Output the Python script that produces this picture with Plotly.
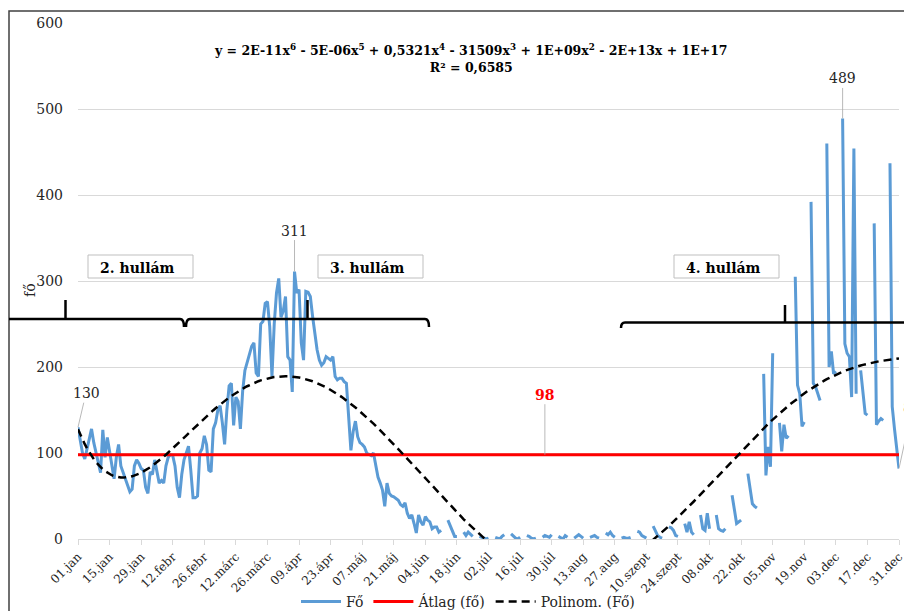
import numpy as np
import plotly.graph_objects as go

# ---------------- data ----------------
tick_labels = ["01.jan", "15.jan", "29.jan", "12.febr", "26.febr", "12.márc", "26.márc",
               "09.ápr", "23.ápr", "07.máj", "21.máj", "04.jún", "18.jún", "02.júl",
               "16.júl", "30.júl", "13.aug", "27.aug", "10.szept", "24.szept", "08.okt",
               "22.okt", "05.nov", "19.nov", "03.dec", "17.dec", "31.dec"]
tick_step = 14

# daily values (fő), 01.jan .. 31.dec ; None = no data
fo_jan_mar = [130, 115, 100, 93, 105, 120, 128, 112, 100, 85,
              77, 127, 95, 118, 100, 88, 70, 95, 110, 85,
              78, 70, 62, 55, 58, 85, 92, 88, 82, 80,
              60, 53, 78, 75, 92, 80, 65, 68, 65, 85,
              95, 98, 97, 85, 60, 48, 75, 92, 100, 108,
              80, 48, 48, 50, 100, 105, 120, 110, 80, 78,
              128, 135, 150, 155, 135, 110, 150, 178]
fo_mar_may = [181, 132, 165, 160, 128, 172, 196, 205, 212, 224,
              228, 193, 189, 250, 253, 274, 276, 247, 189, 250,
              286, 303, 258, 265, 282, 212, 208, 171, 311, 286,
              290, 228, 208, 288, 287, 282, 259, 240, 220, 208,
              202, 205, 212, 210, 208, 212, 189, 185, 187, 187,
              183, 181, 140, 103, 125, 137, 119, 112, 110, 107,
              100, 98, 97, 100, 84, 72]
fo_may_jun = [65, 57, 38, 65, 53, 50, 49, 47, 45, 40,
              38, 42, 30, 24, 28, 18, 7, 28, 20, 16,
              26, 22, 20, 12, 14, 14, 8, 10]
fo_jun_oct = [None, None, 22, 15, 10, 3, 3, None, None, 8,
              4, 8, 5, 3, None, None, 3, 2, 1, 0,
              1, None, None, 2, 1, 0, 3, 5, None, None,
              6, 3, 1, 0, 2, None, None, 4, 3, 1,
              0, 1, None, None, 2, 4, 3, 2, 5, None,
              None, 3, 1, 0, 4, 2, None, None, 1, 3,
              5, 3, 1, None, None, 2, 3, 4, 2, 1,
              None, None, 7, 5, 8, 4, 2, None, None, 1,
              2, 1, 1, 2, None, None, 9, 8, 4, 2,
              1, None, None, 15, 9, 4, 2, 1, None, None,
              14, 13, 10, 4, 3, None, None, 18, 8, 20,
              8, 5, None, None, 28, 12, 10, 30, 12, None,
              None, 28, 12, 10, 9, 12, None, None, 51, 35,
              18, 20, 22, None, None, 76, 55, 41, 38, 36]
fo_nov_dec = [None, None, 192, 74, 107, 84, 216, None, None, 135,
              102, 133, 117, 120, None, None, 305, 179, 169, 131,
              136, None, None, 392, 181, 177, 170, 161, None, None,
              460, 200, 218, 192, 195, None, None, 489, 227, 216,
              212, 165, 454, 169, None, 196, 170, 146, 144, None,
              None, 367, 133, 137, 140, 138, None, None, 437, 154,
              128, 105, 82]

atlag = 98
wave_labels = ["2. hullám", "3. hullám", "4. hullám"]
equation = ("y = 2E-11x<sup>6</sup> - 5E-06x<sup>5</sup> + 0,5321x<sup>4</sup> - 31509x<sup>3</sup>"
            " + 1E+09x<sup>2</sup> - 2E+13x + 1E+17")
r2_text = "R² = 0,6585"

fo = fo_jan_mar + fo_mar_may + fo_may_jun + fo_jun_oct + fo_nov_dec
assert len(fo) == 365, len(fo)
days = list(range(len(fo)))

# polynomial (6th order) trend, fitted to the data
valid = [(d, v) for d, v in zip(days, fo) if v is not None]
xs = np.array([d for d, _ in valid], dtype=float)
ys = np.array([v for _, v in valid], dtype=float)
poly = np.polynomial.Polynomial.fit(xs, ys, 6)
trend = poly(np.array(days, dtype=float))

# ---------------- layout helpers ----------------
OFF = 8                      # page body margin
W, H = 912 - OFF, 611 - OFF  # figure size
L, T = 78 - OFF, 23 - OFF
R = W - (899 - OFF)
B = H - (539 - OFF)
PW, PH = W - L - R, H - T - B


def px(x):   # page pixel x -> paper
    return (x - OFF - L) / PW


def py(y):   # page pixel y -> paper
    return (H - B - (y - OFF)) / PH


SERIF = "DejaVu Serif"
BLUE = "#5B9BD5"
TXT = "#262626"

fig = go.Figure()
fig.add_trace(go.Scatter(x=days, y=fo, mode="lines", name="Fő",
                         line=dict(color=BLUE, width=3), connectgaps=False))
fig.add_trace(go.Scatter(x=[days[0], days[-1]], y=[atlag, atlag], mode="lines",
                         name="Átlag (fő)", line=dict(color="#FF0000", width=3)))
fig.add_trace(go.Scatter(x=days, y=trend, mode="lines", name="Polinom. (Fő)",
                         line=dict(color="black", width=2.5, dash="8px,5px")))

shapes = []
# outer frame
shapes.append(dict(type="rect", xref="paper", yref="paper",
                   x0=px(9), x1=px(930), y0=py(11), y1=py(640),
                   line=dict(color="#404040", width=1.5), fillcolor="rgba(0,0,0,0)"))


def brace_path(x0, x1, xs_, yl, ye, ys_, left_end=True, right_end=True):
    p = "M %f,%f " % (px(x0), py(ye if left_end else yl))
    if left_end:
        p += "Q %f,%f %f,%f " % (px(x0), py(yl), px(x0 + 4), py(yl))
    if right_end:
        p += "L %f,%f Q %f,%f %f,%f " % (px(x1 - 4), py(yl), px(x1), py(yl), px(x1), py(ye))
    else:
        p += "L %f,%f " % (px(x1), py(yl))
    p += "M %f,%f L %f,%f" % (px(xs_), py(yl), px(xs_), py(ys_))
    return p


brace_line = dict(color="black", width=2.5)
shapes.append(dict(type="path", xref="paper", yref="paper", line=brace_line,
                   path=brace_path(9, 184, 65.5, 319, 327, 300, left_end=False)))
shapes.append(dict(type="path", xref="paper", yref="paper", line=brace_line,
                   path=brace_path(186, 429, 307.5, 319, 327, 300)))
shapes.append(dict(type="path", xref="paper", yref="paper", line=brace_line,
                   path=brace_path(621, 930, 785, 322.5, 328, 305, right_end=False)))

# wave label boxes
boxes = [(88, 193), (318, 423), (674, 779)]
annotations = []
for (bx0, bx1), lab in zip(boxes, wave_labels):
    shapes.append(dict(type="rect", xref="paper", yref="paper",
                       x0=px(bx0), x1=px(bx1), y0=py(278), y1=py(255),
                       line=dict(color="#bfbfbf", width=1), fillcolor="white", layer="below"))
    annotations.append(dict(xref="paper", yref="paper", x=px(bx0 + 10), y=py(268),
                            xanchor="left", yanchor="middle", showarrow=False, text="<b>%s</b>" % lab,
                            font=dict(family=SERIF, size=14, color="black")))

# equation
annotations.append(dict(xref="paper", yref="paper", x=px(471), y=py(58), xanchor="center",
                        yanchor="middle", showarrow=False, align="center",
                        text="<b>%s<br>%s</b>" % (equation, r2_text),
                        font=dict(family=SERIF, size=12.5, color="black")))

# data labels with leader lines
lead = dict(showarrow=True, arrowhead=0, arrowwidth=0.8, arrowcolor="#a6a6a6",
            font=dict(family=SERIF, size=14, color=TXT), standoff=0)
first_half_max = max((d for d in range(180) if fo[d] is not None), key=lambda d: fo[d])
second_half_max = max((d for d in days if fo[d] is not None and d > 180), key=lambda d: fo[d])
annotations.append(dict(x=0, y=fo[0], ax=8, ay=-34, text=str(fo[0]), **lead))
annotations.append(dict(x=first_half_max, y=fo[first_half_max], ax=0, ay=-41,
                        text=str(fo[first_half_max]), **lead))
annotations.append(dict(x=second_half_max, y=fo[second_half_max], ax=0, ay=-40,
                        text=str(fo[second_half_max]), **lead))
annotations.append(dict(x=days[-1], y=fo[-1], ax=13, ay=-60, text=str(fo[-1]), **lead))
annotations.append(dict(x=207, y=atlag, ax=0, ay=-60, text="<b>%d</b>" % atlag,
                        showarrow=True, arrowhead=0, arrowwidth=0.8, arrowcolor="#a6a6a6",
                        standoff=0, font=dict(family=SERIF, size=14, color="#FF0000")))

# y-axis title
annotations.append(dict(xref="paper", yref="paper", x=px(20), y=py(290), textangle=-90,
                        showarrow=False, text="fő", font=dict(family=SERIF, size=14, color=TXT)))

fig.update_layout(
    width=W, height=H,
    margin=dict(l=L, r=R, t=T, b=B, autoexpand=False),
    paper_bgcolor="white", plot_bgcolor="white",
    font=dict(family=SERIF, color=TXT),
    showlegend=True,
    legend=dict(orientation="h", x=px(468), xanchor="center", y=py(602), yanchor="middle",
                font=dict(family=SERIF, size=14, color=TXT), bgcolor="rgba(0,0,0,0)",
                itemwidth=40),
    shapes=shapes,
    annotations=annotations,
    xaxis=dict(range=[days[0], days[-1]], tickvals=list(range(0, len(fo), tick_step)),
               ticktext=tick_labels, tickangle=-45, showgrid=False, zeroline=False,
               showline=True, linecolor="#d9d9d9", linewidth=1, ticks="outside",
               tickcolor="#d9d9d9", ticklen=5, automargin=False,
               tickfont=dict(family=SERIF, size=12, color=TXT)),
    yaxis=dict(range=[0, 600], dtick=100, showgrid=True, gridcolor="#d9d9d9", gridwidth=1,
               zeroline=False, showline=False, ticks="", ticklabelstandoff=14, automargin=False,
               tickfont=dict(family=SERIF, size=14, color=TXT)),
)

fig.write_html("out.html")
